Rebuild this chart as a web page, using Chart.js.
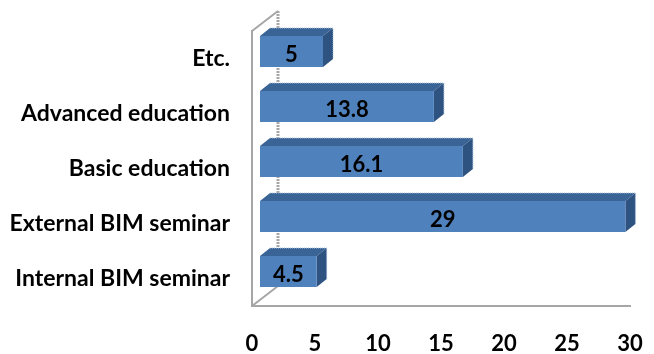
<!DOCTYPE html>
<html>
<head>
<meta charset="utf-8">
<style>
  html, body { margin: 0; padding: 0; background: #fff; }
  #wrap { width: 654px; height: 354px; }
</style>
<script src="https://cdn.jsdelivr.net/npm/chart.js@4"></script>
</head>
<body>
<div id="wrap"><canvas id="bimChart" width="654" height="354"></canvas></div>
<script>
const categories = ["Internal BIM seminar", "External BIM seminar", "Basic education", "Advanced education", "Etc."];
const values = [4.5, 29, 16.1, 13.8, 5];
const xTicks = [0, 5, 10, 15, 20, 25, 30];

const FONT = "bold 22px Lato";
const GREY = "#a6a6a6";

/* fake 3D, all offsets in px */
const WALL = { dx: 26, dy: -20 };
const BAR_SHIFT = { dx: 8, dy: -7 };
const BAR_DEPTH = { dx: 10, dy: -8 };

function face(ctx, pts, fill) {
  ctx.beginPath();
  pts.forEach((p, i) => i ? ctx.lineTo(p[0], p[1]) : ctx.moveTo(p[0], p[1]));
  ctx.closePath();
  ctx.fillStyle = fill;
  ctx.fill();
}

const fake3d = {
  id: "fake3d",
  beforeDatasetsDraw(chart) {
    const { ctx, chartArea: a } = chart;
    ctx.save();
    ctx.strokeStyle = GREY;
    ctx.lineWidth = 2;
    // depth lines at top and bottom of the front axis
    ctx.beginPath();
    ctx.moveTo(a.left, a.top); ctx.lineTo(a.left + WALL.dx, a.top + WALL.dy);
    ctx.moveTo(a.left, a.bottom); ctx.lineTo(a.left + WALL.dx, a.bottom + WALL.dy);
    ctx.stroke();
    // back wall
    ctx.setLineDash([2, 1]);
    ctx.lineWidth = 3;
    ctx.beginPath();
    ctx.moveTo(a.left + WALL.dx, a.top + WALL.dy);
    ctx.lineTo(a.left + WALL.dx, a.bottom + WALL.dy);
    ctx.stroke();
    ctx.restore();
  },
  beforeDatasetDraw(chart, args) {
    const { ctx } = chart;
    ctx.save();
    ctx.translate(BAR_SHIFT.dx, BAR_SHIFT.dy);
    const d = BAR_DEPTH;
    args.meta.data.forEach(bar => {
      const { x, y, base, height } = bar.getProps(["x", "y", "base", "height"], true);
      const top = y - height / 2, bottom = y + height / 2;
      face(ctx, [[base, top], [base + d.dx, top + d.dy], [x + d.dx, top + d.dy], [x, top]], "#3a6496");
      face(ctx, [[x, top], [x + d.dx, top + d.dy], [x + d.dx, bottom + d.dy], [x, bottom]], "#2f5380");
      // stitched edge the original picture has
      ctx.save();
      ctx.strokeStyle = "#9db7d8";
      ctx.lineWidth = 1;
      ctx.setLineDash([1, 1]);
      ctx.beginPath();
      ctx.moveTo(base + d.dx, top + d.dy);
      ctx.lineTo(x + d.dx, top + d.dy);
      ctx.lineTo(x + d.dx, bottom + d.dy);
      ctx.stroke();
      ctx.restore();
    });
  },
  afterDatasetDraw(chart) {
    chart.ctx.restore();
  },
  afterDatasetsDraw(chart, args) {
    const { ctx } = chart;
    const meta = chart.getDatasetMeta(0);
    ctx.save();
    ctx.font = FONT;
    ctx.fillStyle = "#000";
    ctx.textAlign = "center";
    ctx.textBaseline = "middle";
    meta.data.forEach((bar, i) => {
      const { x, y, base } = bar.getProps(["x", "y", "base"], true);
      ctx.fillText(String(values[i]), (x + base) / 2 + BAR_SHIFT.dx, y + BAR_SHIFT.dy + 3);
    });
    ctx.restore();
  }
};

new Chart(document.getElementById("bimChart"), {
  type: "bar",
  data: {
    labels: categories,
    datasets: [{
      data: values,
      backgroundColor: "#4f81bd",
      borderWidth: 0,
      barPercentage: 0.56,
      categoryPercentage: 1,
      clip: false
    }]
  },
  options: {
    indexAxis: "y",
    responsive: false,
    animation: false,
    layout: { padding: { top: 31, right: 24, left: 0, bottom: 0 } },
    plugins: { legend: { display: false }, tooltip: { enabled: false } },
    scales: {
      x: {
        position: "bottom",
        min: 0,
        max: 30,
        afterBuildTicks: axis => { axis.ticks = xTicks.map(v => ({ value: v })); },
        afterFit: axis => { axis.height = 48; axis.paddingRight = 0; axis.paddingLeft = 0; },
        grid: { display: false },
        border: { color: GREY, width: 2, dash: [2, 1] },
        ticks: { color: "#000", font: { family: "Lato", weight: "bold", size: 22 }, padding: 17, maxRotation: 0, autoSkip: false }
      },
      y: {
        reverse: true,
        afterFit: axis => { axis.width = 252; },
        grid: { display: false },
        border: { color: GREY, width: 2 },
        ticks: { color: "#000", font: { family: "Lato", weight: "bold", size: 23 }, padding: 14, autoSkip: false }
      }
    }
  },
  plugins: [fake3d]
});
</script>
</body>
</html>
